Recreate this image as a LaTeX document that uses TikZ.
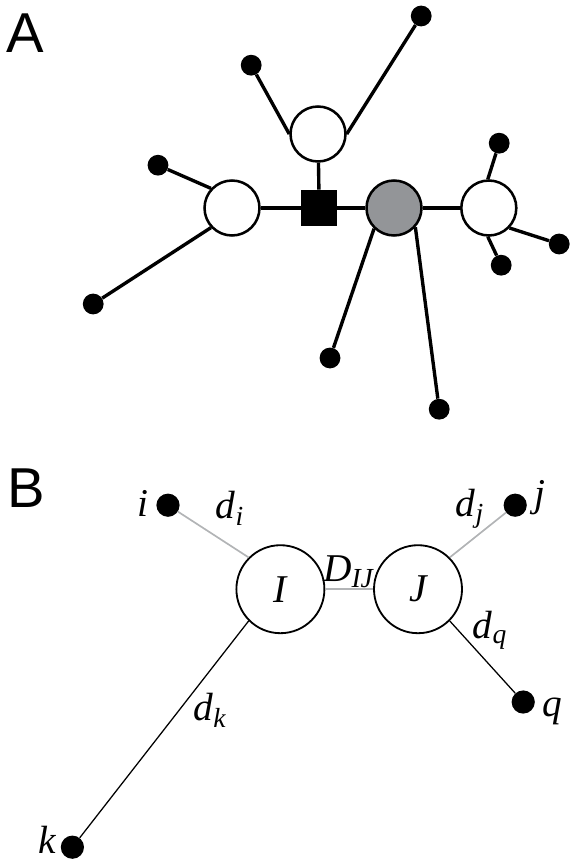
\documentclass[tikz,border=0pt]{standalone}
\usepackage{fontspec}
\setmainfont{Liberation Serif}
\setsansfont{Liberation Sans}
\usepackage{tikz}
\definecolor{hubgray}{RGB}{147,149,152}
\definecolor{linkgray}{RGB}{178,180,182}
\tikzset{
    panel/.style={inner sep=0pt, font=\sffamily\fontsize{40}{40}\selectfont},
    hub/.style={circle, draw, line width=1.8pt, fill=white, minimum size=1.375cm, inner sep=0pt},
    leaf/.style={circle, fill=black, minimum size=0.52cm, inner sep=0pt},
    bighub/.style={circle, draw, line width=1.3pt, fill=white, minimum size=2.2cm, inner sep=0pt,
        font=\fontsize{28}{30}\selectfont\itshape},
    bigleaf/.style={circle, fill=black, minimum size=0.58cm, inner sep=0pt},
    lbl/.style={inner sep=0pt, font=\fontsize{28}{30}\selectfont\itshape},
    tree/.style={line width=2.4pt},
    grayline/.style={line width=1.2pt, draw=linkgray},
    thinline/.style={line width=0.9pt},
}

\begin{document}
\begin{tikzpicture}
\useasboundingbox (0,0) rectangle (14.325,-21.625);

% panel A
\node[panel] (pA) at (0.63,-0.83) {A};

\node[rectangle, fill=black, minimum size=0.9cm, inner sep=0pt] (s1) at (7.98,-5.2) {};
\node[hub] (c1) at (5.8,-5.2) {};
\node[hub] (c2) at (7.95,-3.35) {};
\node[hub, fill=hubgray] (c3) at (9.85,-5.2) {};
\node[hub] (c4) at (12.22,-5.2) {};

\node[leaf] (l1) at (6.28,-1.63) {};
\node[leaf] (l2) at (10.53,-0.4) {};
\node[leaf] (l3) at (3.95,-4.13) {};
\node[leaf] (l4) at (2.33,-7.6) {};
\node[leaf] (l5) at (8.25,-8.95) {};
\node[leaf] (l6) at (10.98,-10.23) {};
\node[leaf] (l7) at (12.48,-3.58) {};
\node[leaf] (l8) at (12.53,-6.63) {};
\node[leaf] (l9) at (13.98,-6.1) {};

\draw[tree] (c1)--(s1);
\draw[tree] (s1)--(c3);
\draw[tree] (c3)--(c4);
\draw[tree] (s1)--(c2);
\draw[tree] (l1)--(c2.180);
\draw[tree] (l2)--(c2.0);
\draw[tree] (l3)--(c1.137);
\draw[tree] (l4)--(c1.223);
\draw[tree] (l5)--(c3.226);
\draw[tree] (l6)--(c3.318);
\draw[tree] (l7)--(c4.92);
\draw[tree] (l8)--(c4.268);
\draw[tree] (l9)--(c4.316);

% panel B
\node[panel] (pB) at (0.65,-12.2) {B};

\node[bighub] (nI) at (7.01,-14.73) {I};
\node[bighub] (nJ) at (10.45,-14.73) {J};

\node[bigleaf] (bi) at (4.2,-12.63) {};
\node[bigleaf] (bj) at (12.88,-12.63) {};
\node[bigleaf] (bq) at (13.08,-17.55) {};
\node[bigleaf] (bk) at (1.81,-21.18) {};

\node[lbl] (ti) at (3.58,-12.58) {i};
\node[lbl] (tj) at (13.5,-12.43) {j};
\node[lbl] (tq) at (13.81,-17.79) {q};
\node[lbl] (tk) at (1.18,-21.0) {k};

\draw[grayline] (bi)--(nI.135);
\draw[grayline] (nI)--(nJ);
\draw[grayline] (bj)--(nJ.45);
\draw[thinline] (nJ.315)--(bq);
\draw[thinline] (nI.225)--(bk);

\node[lbl] (di) at (5.75,-12.71) {d\textsubscript{i}};
\node[lbl] (dj) at (11.75,-12.71) {d\textsubscript{j}};
\node[lbl] (dIJ) at (8.71,-14.29) {D\textsubscript{IJ}};
\node[lbl] (dq) at (12.25,-15.75) {d\textsubscript{q}};
\node[lbl] (dk) at (5.25,-17.76) {d\textsubscript{k}};
\end{tikzpicture}
\end{document}
